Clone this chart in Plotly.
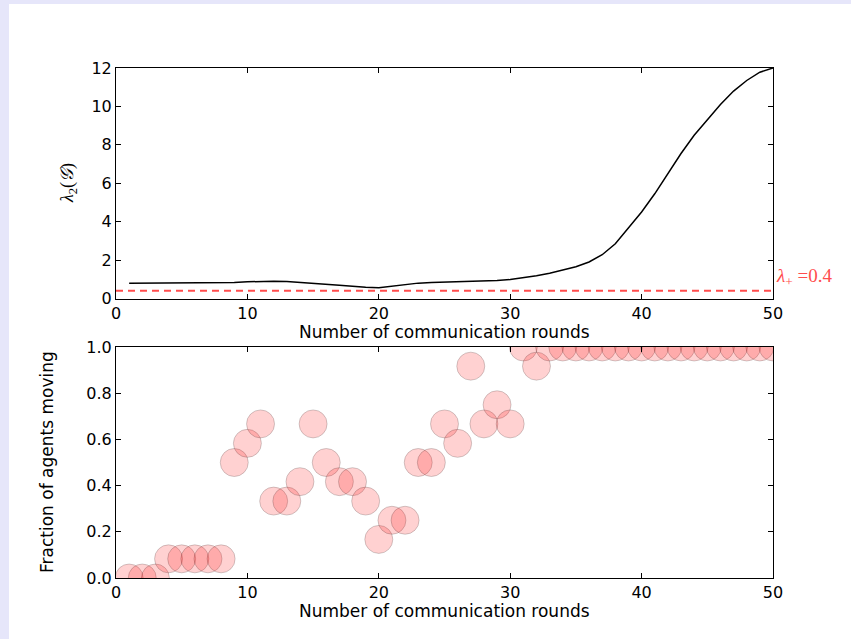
import plotly.graph_objects as go

# Communication rounds and the algebraic connectivity of the graph per round
rounds = list(range(1, 51))
lambda2 = [
    0.80, 0.80, 0.80, 0.80, 0.80, 0.80, 0.80, 0.80, 0.83, 0.87,
    0.90, 0.90, 0.88, 0.84, 0.79, 0.74, 0.69, 0.64, 0.58, 0.56,
    0.63, 0.72, 0.80, 0.83, 0.85, 0.87, 0.89, 0.91, 0.94, 0.99,
    1.07, 1.18, 1.31, 1.47, 1.65, 1.90, 2.28, 2.85, 3.65, 4.50,
    5.45, 6.50, 7.55, 8.50, 9.30, 10.10, 10.80, 11.35, 11.78, 12.00,
]

# Threshold line
lambda_plus = 0.4
threshold_x = [0, 50]

# Fraction of agents moving in each round
fraction_moving = [
    0.0, 0.0, 0.0, 0.083, 0.083, 0.083, 0.083, 0.083, 0.5, 0.583,
    0.667, 0.333, 0.333, 0.417, 0.667, 0.5, 0.417, 0.417, 0.333, 0.167,
    0.25, 0.25, 0.5, 0.5, 0.667, 0.583, 0.917, 0.667, 0.75, 0.667,
    1.0, 0.917, 1.0, 1.0, 1.0, 1.0, 1.0, 1.0, 1.0, 1.0,
    1.0, 1.0, 1.0, 1.0, 1.0, 1.0, 1.0, 1.0, 1.0, 1.0,
]

x_ticks = [0, 10, 20, 30, 40, 50]
lambda_ticks = [0, 2, 4, 6, 8, 10, 12]
fraction_ticks = [0.0, 0.2, 0.4, 0.6, 0.8, 1.0]

FONT = "DejaVu Sans"
FS = 17
TICK_FS = 16
W, H = 851, 639
ML, MR, MT, MB = 116, 78, 68, 61
plot_h = H - MT - MB
plot_w = W - ML - MR


def py(pix):
    """Pixel row -> paper y."""
    return (H - MB - pix) / plot_h


def px(pix):
    """Pixel column -> paper x."""
    return (pix - ML) / plot_w


fig = go.Figure()

fig.add_trace(go.Scatter(
    x=rounds, y=lambda2, mode="lines",
    line=dict(color="black", width=1.5),
    xaxis="x", yaxis="y", showlegend=False,
))
fig.add_trace(go.Scatter(
    x=threshold_x, y=[lambda_plus] * len(threshold_x), mode="lines",
    line=dict(color="rgba(255,0,0,0.7)", width=2, dash="7px,5px"),
    xaxis="x", yaxis="y", showlegend=False,
))
fig.add_trace(go.Scatter(
    x=rounds, y=fraction_moving, mode="markers",
    marker=dict(size=28, color="rgba(255,0,0,0.18)",
                line=dict(color="rgba(0,0,0,0.18)", width=1)),
    xaxis="x2", yaxis="y2", showlegend=False,
))

axis_common = dict(
    showline=True, linecolor="black", linewidth=1, mirror="allticks",
    ticks="inside", ticklen=5, tickwidth=1, tickcolor="black",
    showgrid=False, zeroline=False,
    tickfont=dict(family=FONT, size=TICK_FS, color="black"),
)

fig.update_layout(
    width=W, height=H,
    margin=dict(l=ML, r=MR, t=MT, b=MB, pad=0),
    paper_bgcolor="#e6e6fa",
    plot_bgcolor="white",
    xaxis=dict(domain=[0, 1], range=[0, 50], tickvals=x_ticks, anchor="y", **axis_common),
    yaxis=dict(domain=[py(298.5), 1], range=[0, 12], tickvals=lambda_ticks, anchor="x", **axis_common),
    xaxis2=dict(domain=[0, 1], range=[0, 50], tickvals=x_ticks, anchor="y2", **axis_common),
    yaxis2=dict(domain=[0, py(347)], range=[0, 1], tickvals=fraction_ticks,
                tickformat=".1f", anchor="x2", **axis_common),
    shapes=[dict(
        type="rect", xref="paper", yref="paper", layer="below",
        x0=px(9), x1=px(W + 20), y0=py(H + 20), y1=py(4),
        fillcolor="white", line=dict(width=0),
    )],
    annotations=[
        dict(text="Number of communication rounds", xref="paper", yref="paper",
             x=0.5, y=py(332), xanchor="center", yanchor="middle", showarrow=False,
             font=dict(family=FONT, size=FS, color="black")),
        dict(text="Number of communication rounds", xref="paper", yref="paper",
             x=0.5, y=py(611), xanchor="center", yanchor="middle", showarrow=False,
             font=dict(family=FONT, size=FS, color="black")),
        dict(text="Fraction of agents moving", xref="paper", yref="paper",
             x=px(47), y=py(462), xanchor="center", yanchor="middle", showarrow=False,
             textangle=-90, font=dict(family=FONT, size=FS, color="black")),
        dict(text="<i>λ</i><sub>2</sub>(<i>𝒢</i>)", xref="paper", yref="paper",
             x=px(68), y=py(183), xanchor="center", yanchor="middle", showarrow=False,
             textangle=-90, font=dict(family="Liberation Serif", size=18, color="black")),
        dict(text="<i>λ</i><sub>+</sub> =0.4", xref="x", yref="y",
             x=50, y=1.1, xanchor="left", yanchor="middle", xshift=1, showarrow=False,
             font=dict(family="Liberation Serif", size=19, color="rgb(255,77,77)")),
    ],
)

fig.write_html("out.html")
